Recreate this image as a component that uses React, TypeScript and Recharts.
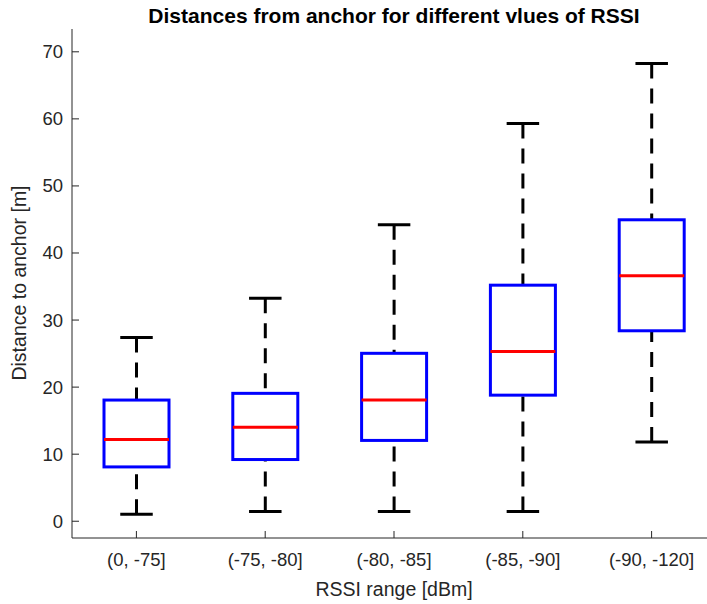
import { ComposedChart, Bar, XAxis, YAxis } from 'recharts';

const categories = ['(0, -75]', '(-75, -80]', '(-80, -85]', '(-85, -90]', '(-90, -120]'];
const whiskerLow = [1.05, 1.45, 1.45, 1.45, 11.8];
const lowerQuartile = [8.1, 9.2, 12.05, 18.8, 28.4];
const medians = [12.2, 14.0, 18.07, 25.3, 36.6];
const upperQuartile = [18.07, 19.07, 25.04, 35.2, 44.95];
const whiskerHigh = [27.4, 33.26, 44.2, 59.3, 68.25];
const yTicks = [0, 10, 20, 30, 40, 50, 60, 70];

const data = categories.map((name, i) => ({
  name,
  min: whiskerLow[i],
  q1: lowerQuartile[i],
  median: medians[i],
  q3: upperQuartile[i],
  max: whiskerHigh[i],
}));

const FONT = '"Liberation Sans", Arial, Helvetica, sans-serif';
const INK = '#262626';

// whole box plot drawn from the [min, max] range bar
const BoxShape = (props: any) => {
  const { x, y, width, height, payload } = props;
  const top = Math.min(y, y + height);
  const bottom = Math.max(y, y + height);
  const span = payload.max - payload.min;
  const py = (v: number) => bottom - ((v - payload.min) / span) * (bottom - top);
  const cx = x + width / 2;
  const capHalf = width / 4;
  return (
    <g>
      <line x1={cx} x2={cx} y1={py(payload.max)} y2={py(payload.q3)} stroke="#000" strokeWidth={3} strokeDasharray="15 10" />
      <line x1={cx} x2={cx} y1={py(payload.min)} y2={py(payload.q1)} stroke="#000" strokeWidth={3} strokeDasharray="15 10" />
      <line x1={cx - capHalf} x2={cx + capHalf} y1={py(payload.max)} y2={py(payload.max)} stroke="#000" strokeWidth={3} />
      <line x1={cx - capHalf} x2={cx + capHalf} y1={py(payload.min)} y2={py(payload.min)} stroke="#000" strokeWidth={3} />
      <rect x={x} y={py(payload.q3)} width={width} height={py(payload.q1) - py(payload.q3)} fill="none" stroke="#0000ff" strokeWidth={3} />
      <line x1={x} x2={x + width} y1={py(payload.median)} y2={py(payload.median)} stroke="#ff0000" strokeWidth={3} />
    </g>
  );
};

const XTick = ({ x, y, payload }: any) => (
  <g>
    <line x1={x} x2={x} y1={y} y2={y - 7} stroke={INK} />
    <text x={x} y={y + 28} textAnchor="middle" fontSize={18.5} fontFamily={FONT} fill={INK}>
      {payload.value}
    </text>
  </g>
);

const TopTick = ({ x, y }: any) => <line x1={x} x2={x} y1={y} y2={y + 7} stroke={INK} />;

const YTick = ({ x, y, payload }: any) => (
  <g>
    <line x1={x} x2={x + 7} y1={y} y2={y} stroke={INK} />
    <text x={x - 9} y={y + 6.5} textAnchor="end" fontSize={18.5} fontFamily={FONT} fill={INK}>
      {payload.value}
    </text>
  </g>
);

export default function App() {
  return (
    <div style={{ position: 'fixed', left: 0, top: 0, width: 707, height: 604, overflow: 'hidden', background: '#fff' }}>
      <ComposedChart width={730} height={604} data={data} margin={{ top: 29, right: 14, bottom: 0, left: 0 }}>
        <XAxis dataKey="name" height={66} tickSize={0} tickMargin={0} stroke={INK} tick={<XTick />} interval={0} />
        <XAxis xAxisId="top" dataKey="name" orientation="top" height={0} tickSize={0} tickMargin={0} stroke={INK} tick={<TopTick />} interval={0} />
        <YAxis
          type="number"
          domain={[-2.5, 73.4]}
          ticks={yTicks}
          allowDataOverflow
          width={72}
          tickSize={0}
          tickMargin={0}
          stroke={INK}
          tick={<YTick />}
        />
        <Bar dataKey={(d: any) => [d.min, d.max]} barSize={65} shape={(p: any) => <BoxShape {...p} />} isAnimationActive={false} />
      </ComposedChart>
      <svg width={707} height={604} style={{ position: 'absolute', left: 0, top: 0, pointerEvents: 'none' }}>
        <text x={394} y={23} textAnchor="middle" fontSize={21} fontWeight="bold" fontFamily={FONT} fill="#000">
          Distances from anchor for different vlues of RSSI
        </text>
        <text x={394} y={596} textAnchor="middle" fontSize={19.5} fontFamily={FONT} fill={INK}>
          RSSI range [dBm]
        </text>
        <text x={26} y={283} textAnchor="middle" fontSize={19.5} fontFamily={FONT} fill={INK} transform="rotate(-90 26 283)">
          Distance to anchor [m]
        </text>
      </svg>
    </div>
  );
}
